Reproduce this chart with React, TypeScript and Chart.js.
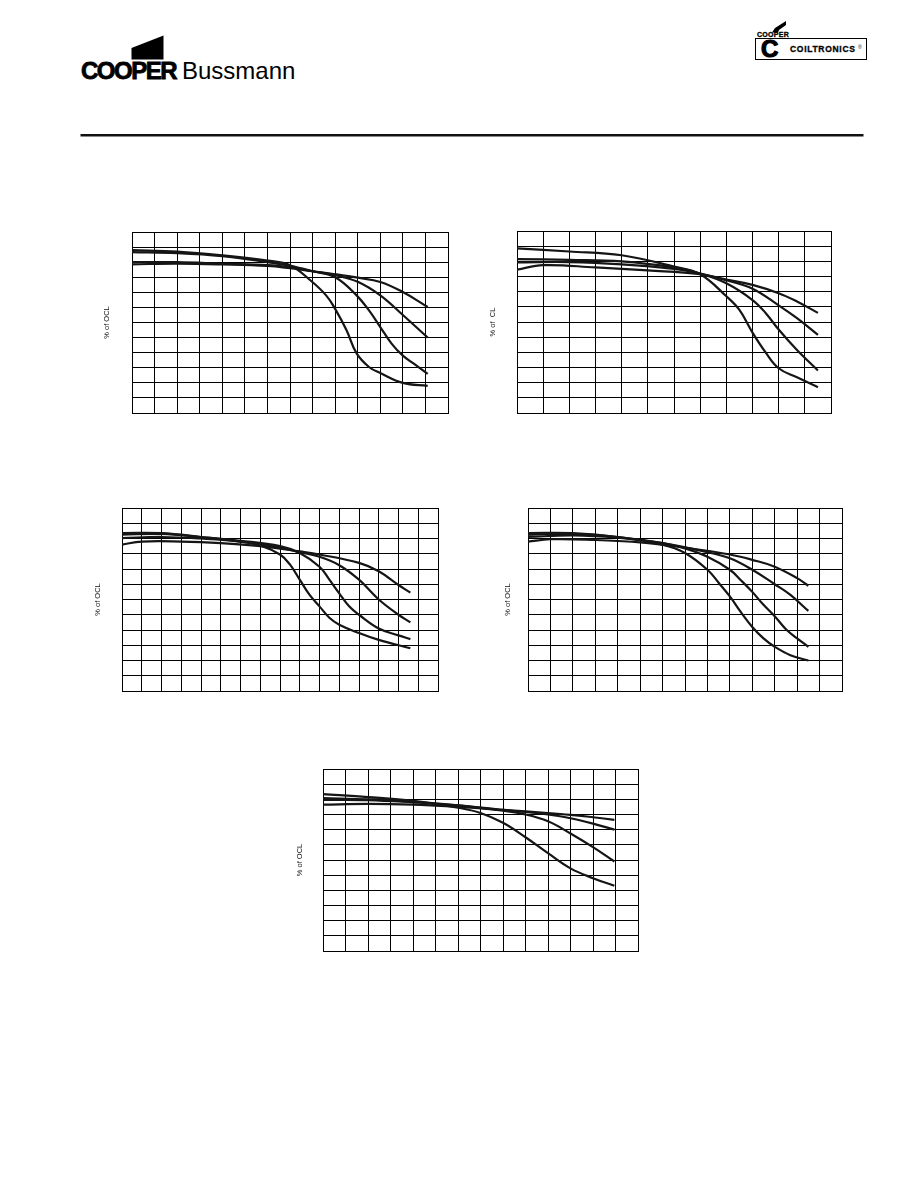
import React, { useEffect, useRef } from 'react';
import { Chart, registerables } from 'chart.js';

Chart.register(...registerables);

// ---- shared y scale (% of OCL) ----
const Y_MIN = 0;
const Y_MAX = 120;
const Y_STEP = 10;
const X_STEP = 1;

// ---- Graph 1 (14 columns) ----
const G1_XMAX = 14;
const G1_A = [[0, 108], [2, 107], [4, 104.5], [6, 101], [7, 98], [7.9, 88], [8.6, 78], [9, 69], [9.5, 55], [9.95, 39.5], [10.5, 30.5], [11, 26.5], [12, 20], [13.1, 18]];
const G1_B = [[0, 106.7], [2, 106], [4, 104], [6, 100], [7, 97.5], [8, 94], [9, 90], [9.95, 78], [10.5, 68], [11, 57], [11.5, 46], [12, 38], [12.5, 32.5], [13.1, 26]];
const G1_C = [[0, 100], [2, 100], [4, 99], [6, 98], [7, 96.5], [8, 94], [9, 91.3], [10, 87], [11, 78], [12, 65], [13.1, 50]];
const G1_D = [[0, 98.6], [2, 99], [4, 98.5], [6, 97.5], [7, 96], [8, 94], [9, 92], [10, 89.7], [11, 86.9], [12, 80.2], [13.1, 70.3]];

// ---- Graph 2 (12 columns) ----
const G2_XMAX = 12;
const G2_A = [[0, 108.5], [2, 106.5], [4, 104], [6, 96.5], [7, 91.5], [8, 77], [8.5, 68], [9, 53], [9.5, 40], [10, 29.5], [10.7, 23.5], [11.5, 17]];
const G2_B = [[0, 101.5], [2, 101], [4, 100], [6, 96], [7, 92], [8, 85.5], [9, 74.5], [9.5, 66], [10, 55], [10.7, 41.5], [11.5, 28]];
const G2_C = [[0, 99.3], [2, 99.5], [4, 98], [6, 95], [7, 92], [8, 87.5], [9, 82], [10, 71], [10.7, 62.5], [11.5, 51.5]];
const G2_D = [[0, 94.5], [1, 97.5], [3, 96], [5, 94], [7, 91.5], [8, 88], [9, 84.5], [10, 79], [10.7, 73.5], [11.5, 66]];

// ---- Graph 3 (16 columns) ----
const G3_XMAX = 16;
const G3_A = [[0, 103.6], [2, 103.5], [4, 101], [6, 98], [7, 95.5], [8, 89.5], [8.5, 83], [9, 73], [9.5, 63], [10, 55.5], [10.5, 48], [11, 43.5], [12, 38], [13, 33.5], [14.6, 28]];
const G3_B = [[0, 102.5], [2, 103], [4, 101], [6, 98.5], [8, 95], [9, 90.5], [10, 81.5], [10.5, 73], [11, 64], [11.5, 55.5], [12, 50], [13, 41], [14, 36.5], [14.6, 34]];
const G3_C = [[0, 100.3], [2, 101], [4, 100], [6, 98], [8, 94], [9, 91], [10, 88], [11, 82.5], [12, 73], [13, 60], [14, 50], [14.6, 45]];
const G3_D = [[0, 96], [1, 98], [3, 98], [5, 97], [7, 95], [9, 91.5], [10, 89.5], [12, 84], [13, 78.5], [14, 69.5], [14.6, 64.5]];

// ---- Graph 4 (14 columns) ----
const G4_XMAX = 14;
const G4_A = [[0, 103.6], [2, 103.5], [4, 101], [6, 96], [7, 90.5], [8, 79.5], [8.5, 71], [9, 62], [9.5, 51.5], [10, 42], [10.5, 34.5], [11, 29], [11.7, 23.5], [12.5, 20]];
const G4_B = [[0, 102.5], [2, 103], [4, 101], [6, 97], [7, 93.5], [8, 88], [9, 79.5], [9.5, 72.5], [10, 65], [10.5, 56.5], [11, 49], [11.5, 40.5], [12, 34.5], [12.5, 29]];
const G4_C = [[0, 101], [2, 102], [4, 100.5], [6, 97], [8, 91], [9, 87], [10, 79.5], [11, 70], [11.7, 63], [12.5, 52.5]];
const G4_D = [[0, 98], [1, 99.5], [3, 99], [5, 97.5], [7, 94], [9, 89.5], [10, 86], [11, 81.5], [12, 74], [12.5, 69]];

// ---- Graph 5 (14 columns) ----
const G5_XMAX = 14;
const G5_A = [[0, 103.4], [2, 101.5], [4, 99], [6, 94.5], [7, 91], [8, 84.5], [9, 75], [10, 64.5], [11, 54.5], [12, 48], [12.95, 43]];
const G5_B = [[0, 100.8], [2, 100], [4, 98.5], [6, 96], [8, 92.5], [9, 90], [10, 85.5], [11, 77.5], [12, 68.5], [12.95, 59]];
const G5_C = [[0, 99.7], [2, 99.5], [4, 98], [6, 96], [8, 93], [10, 90], [11, 87.5], [12, 84], [12.95, 80]];
const G5_D = [[0, 96.5], [2, 97], [4, 96.5], [6, 95], [8, 93], [10, 91], [11, 89.8], [12, 88.2], [12.95, 86.5]];

const LABEL_OCL = '% of OCL';
const LABEL_CL = '% of  CL';

// ---- layout (page coordinates of each plot area) ----
const PANELS = [
  { left: 132, top: 232, width: 316, height: 181, gap: 25, label: LABEL_OCL, xmax: G1_XMAX, curves: [G1_A, G1_B, G1_C, G1_D] },
  { left: 517, top: 231, width: 314, height: 182, gap: 24, label: LABEL_CL, xmax: G2_XMAX, curves: [G2_A, G2_B, G2_C, G2_D] },
  { left: 122, top: 508, width: 316, height: 183, gap: 24, label: LABEL_OCL, xmax: G3_XMAX, curves: [G3_A, G3_B, G3_C, G3_D] },
  { left: 528, top: 508, width: 314, height: 183, gap: 20, label: LABEL_OCL, xmax: G4_XMAX, curves: [G4_A, G4_B, G4_C, G4_D] },
  { left: 323, top: 769, width: 315, height: 182, gap: 23, label: LABEL_OCL, xmax: G5_XMAX, curves: [G5_A, G5_B, G5_C, G5_D] },
];

const PAD_L = 40;
const PAD_R = 4;
const PAD_V = 4;
const TITLE_SIZE = 7.5;
const TITLE_LH = 1.2;

function Panel({ p }: { p: any }) {
  const ref = useRef<HTMLCanvasElement | null>(null);
  useEffect(() => {
    if (!ref.current) return;
    const half = (TITLE_SIZE * TITLE_LH) / 2;
    const gridOpts = { color: '#000', lineWidth: 1, drawTicks: false };
    const borderOpts = { color: '#000', width: 1 };
    const chart = new Chart(ref.current, {
      type: 'line',
      data: {
        datasets: p.curves.map((c: number[][]) => ({
          data: c.map(([x, y]) => ({ x, y })),
          borderColor: '#151515',
          borderWidth: 2.2,
          pointRadius: 0,
          fill: false,
          tension: 0.4,
        })),
      },
      options: {
        responsive: false,
        animation: false,
        devicePixelRatio: 1,
        layout: { padding: { left: 0, top: PAD_V, right: PAD_R, bottom: PAD_V } },
        plugins: { legend: { display: false }, tooltip: { enabled: false } },
        scales: {
          x: {
            type: 'linear',
            min: 0,
            max: p.xmax,
            ticks: { display: false, stepSize: X_STEP },
            grid: gridOpts,
            border: borderOpts,
          },
          y: {
            type: 'linear',
            min: Y_MIN,
            max: Y_MAX,
            ticks: { display: false, stepSize: Y_STEP },
            grid: gridOpts,
            border: borderOpts,
            title: {
              display: true,
              text: p.label,
              color: '#111',
              font: { family: "'Liberation Sans', Arial, sans-serif", size: TITLE_SIZE, lineHeight: TITLE_LH },
              padding: { top: PAD_L - p.gap - half, bottom: p.gap - half },
            },
          },
        },
      } as any,
    });
    return () => chart.destroy();
  }, [p]);
  return (
    <canvas
      ref={ref}
      width={p.width + PAD_L + PAD_R}
      height={p.height + 2 * PAD_V}
      style={{ position: 'absolute', left: p.left - PAD_L, top: p.top - PAD_V, width: p.width + PAD_L + PAD_R, height: p.height + 2 * PAD_V }}
    />
  );
}

export default function App() {
  const sans = "'Liberation Sans', Arial, sans-serif";
  return (
    <div style={{ position: 'absolute', left: 0, top: 0, width: 918, height: 1188, background: '#fff', overflow: 'hidden' }}>
      {/* Cooper Bussmann logo */}
      <svg style={{ position: 'absolute', left: 0, top: 0 }} width={918} height={140}>
        <polygon points="131.5,48 163.5,35.5 163.5,59.5 131.5,59.5" fill="#000" />
        <polygon points="772,32.5 775,28 786,21 786,25 779,30 778,32.5" fill="#000" />
        <rect x={80.5} y={134} width={783} height={2.5} fill="#111" />
      </svg>
      <div style={{ position: 'absolute', left: 81, top: 59, fontFamily: sans, fontSize: 24, lineHeight: '24px', fontWeight: 900, letterSpacing: -1.5, WebkitTextStroke: '0.8px #000', color: '#000', whiteSpace: 'nowrap' }}>COOPER</div>
      <div style={{ position: 'absolute', left: 182, top: 59, fontFamily: sans, fontSize: 24, lineHeight: '24px', color: '#000', whiteSpace: 'nowrap' }}>Bussmann</div>

      {/* Coiltronics logo */}
      <div style={{ position: 'absolute', left: 757, top: 30.5, fontFamily: sans, fontSize: 7, lineHeight: '7px', fontWeight: 900, letterSpacing: 0.3, WebkitTextStroke: '0.3px #000', color: '#000', whiteSpace: 'nowrap' }}>COOPER</div>
      <div style={{ position: 'absolute', left: 755, top: 38, width: 110, height: 20, border: '1px solid #000' }} />
      <div style={{ position: 'absolute', left: 761, top: 36.5, fontFamily: sans, fontSize: 24, lineHeight: '24px', fontWeight: 900, WebkitTextStroke: '1.2px #000', color: '#000' }}>C</div>
      <div style={{ position: 'absolute', left: 790, top: 45, fontFamily: sans, fontSize: 8.5, lineHeight: '8.5px', fontWeight: 900, letterSpacing: 0.7, WebkitTextStroke: '0.3px #000', color: '#000', whiteSpace: 'nowrap' }}>COILTRONICS</div>
      <div style={{ position: 'absolute', left: 858, top: 44.5, fontFamily: sans, fontSize: 5, lineHeight: '5px', color: '#000' }}>®</div>

      {PANELS.map((p, i) => (
        <Panel key={i} p={p} />
      ))}
    </div>
  );
}
